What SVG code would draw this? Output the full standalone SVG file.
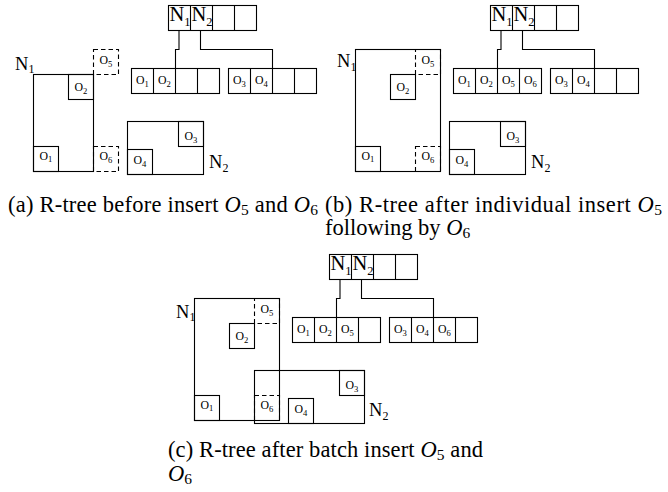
<svg xmlns="http://www.w3.org/2000/svg" width="668" height="492" viewBox="0 0 668 492" font-family="'Liberation Serif', 'Times New Roman', Times, serif">
  <style>
    .box{fill:none;stroke:#000;stroke-width:1.1}
    .dash{fill:none;stroke:#000;stroke-width:1.1;stroke-dasharray:4.5 3}
    .wire{fill:none;stroke:#000;stroke-width:1.1}
    text{font-family:'Liberation Serif','Times New Roman',Times,serif;fill:#000}
    .obj{font-size:11.8px;text-anchor:middle}
    .sub{font-size:8.6px}
    .nl{font-size:18.5px}
    .nsub{font-size:12px}
    .rn{font-size:20.5px}
    .rsub{font-size:12.5px}
    .cap{font-size:22.5px}
    .capsub{font-size:15.5px}
    .it{font-style:italic}
  </style>

  <!-- (a) R-tree before insert -->
  <g id="panel-a">
    <g id="a-root">
      <rect class="box" x="168.5" y="5.5" width="88" height="25"/>
      <path class="box" d="M190.5 5.5V30.5M212.5 5.5V30.5M234.5 5.5V30.5"/>
      <text class="rn" x="169.5" y="21">N<tspan class="rsub" dy="4.5">1</tspan></text>
      <text class="rn" x="191.5" y="21">N<tspan class="rsub" dy="4.5">2</tspan></text>
    </g>
    <g id="a-leaf1">
      <rect class="box" x="131.5" y="68.5" width="88" height="25"/>
      <path class="box" d="M153.5 68.5V93.5M175.5 68.5V93.5M197.5 68.5V93.5"/>
      <text class="obj" x="142.5" y="84">O<tspan class="sub" dy="2.5">1</tspan></text>
      <text class="obj" x="164.5" y="84">O<tspan class="sub" dy="2.5">2</tspan></text>
    </g>
    <g id="a-leaf2">
      <rect class="box" x="228.5" y="68.5" width="88" height="25"/>
      <path class="box" d="M250.5 68.5V93.5M272.5 68.5V93.5M294.5 68.5V93.5"/>
      <text class="obj" x="239.5" y="84">O<tspan class="sub" dy="2.5">3</tspan></text>
      <text class="obj" x="261.5" y="84">O<tspan class="sub" dy="2.5">4</tspan></text>
    </g>
    <g id="a-connectors">
      <path class="wire" d="M179 30.5V49.5H175.5V68.5"/>
      <path class="wire" d="M200.5 30.5V49.5H272.5V68.5"/>
    </g>
    <g id="a-N1">
      <rect class="box" x="33.5" y="74.5" width="60" height="97"/>
      <text class="nl" x="15" y="69.5">N<tspan class="nsub" dy="3.5">1</tspan></text>
    </g>
    <g id="a-N2">
      <rect class="box" x="127.5" y="121.5" width="76" height="53"/>
      <text class="nl" x="209" y="168">N<tspan class="nsub" dy="3.5">2</tspan></text>
    </g>
    <g id="a-O1"><rect class="box" x="33.5" y="146.5" width="25" height="25"/><text class="obj" x="46" y="159.5">O<tspan class="sub" dy="2.5">1</tspan></text></g>
    <g id="a-O2"><rect class="box" x="68.5" y="74.5" width="25" height="25"/><text class="obj" x="81" y="91">O<tspan class="sub" dy="2.5">2</tspan></text></g>
    <g id="a-O3"><rect class="box" x="178.5" y="121.5" width="25" height="25"/><text class="obj" x="191" y="140">O<tspan class="sub" dy="2.5">3</tspan></text></g>
    <g id="a-O4"><rect class="box" x="127.5" y="149.5" width="25" height="25"/><text class="obj" x="140" y="164">O<tspan class="sub" dy="2.5">4</tspan></text></g>
    <g id="a-O5"><rect class="dash" x="93.5" y="49.5" width="25" height="25"/><text class="obj" x="106" y="64">O<tspan class="sub" dy="2.5">5</tspan></text></g>
    <g id="a-O6"><rect class="dash" x="93.5" y="146.5" width="25" height="25"/><text class="obj" x="106" y="160">O<tspan class="sub" dy="2.5">6</tspan></text></g>
  </g>

  <!-- (b) R-tree after inserting O5 then O6 one at a time -->
  <g id="panel-b" transform="translate(322,0)">
    <g id="b-root">
      <rect class="box" x="168.5" y="5.5" width="88" height="25"/>
      <path class="box" d="M190.5 5.5V30.5M212.5 5.5V30.5M234.5 5.5V30.5"/>
      <text class="rn" x="169.5" y="21">N<tspan class="rsub" dy="4.5">1</tspan></text>
      <text class="rn" x="191.5" y="21">N<tspan class="rsub" dy="4.5">2</tspan></text>
    </g>
    <g id="b-leaf1">
      <rect class="box" x="131.5" y="68.5" width="88" height="25"/>
      <path class="box" d="M153.5 68.5V93.5M175.5 68.5V93.5M197.5 68.5V93.5"/>
      <text class="obj" x="142.5" y="84">O<tspan class="sub" dy="2.5">1</tspan></text>
      <text class="obj" x="164.5" y="84">O<tspan class="sub" dy="2.5">2</tspan></text>
      <text class="obj" x="186.5" y="84">O<tspan class="sub" dy="2.5">5</tspan></text>
      <text class="obj" x="208.5" y="84">O<tspan class="sub" dy="2.5">6</tspan></text>
    </g>
    <g id="b-leaf2">
      <rect class="box" x="228.5" y="68.5" width="88" height="25"/>
      <path class="box" d="M250.5 68.5V93.5M272.5 68.5V93.5M294.5 68.5V93.5"/>
      <text class="obj" x="239.5" y="84">O<tspan class="sub" dy="2.5">3</tspan></text>
      <text class="obj" x="261.5" y="84">O<tspan class="sub" dy="2.5">4</tspan></text>
    </g>
    <g id="b-connectors">
      <path class="wire" d="M179 30.5V49.5H175.5V68.5"/>
      <path class="wire" d="M200.5 30.5V49.5H272.5V68.5"/>
    </g>
    <g id="b-N1">
      <rect class="box" x="33.5" y="49.5" width="85" height="122"/>
      <text class="nl" x="15" y="67">N<tspan class="nsub" dy="3.5">1</tspan></text>
    </g>
    <g id="b-N2">
      <rect class="box" x="127.5" y="121.5" width="76" height="53"/>
      <text class="nl" x="209" y="168">N<tspan class="nsub" dy="3.5">2</tspan></text>
    </g>
    <g id="b-O1"><rect class="box" x="33.5" y="146.5" width="25" height="25"/><text class="obj" x="46" y="159.5">O<tspan class="sub" dy="2.5">1</tspan></text></g>
    <g id="b-O2"><rect class="box" x="68.5" y="74.5" width="25" height="25"/><text class="obj" x="81" y="91">O<tspan class="sub" dy="2.5">2</tspan></text></g>
    <g id="b-O3"><rect class="box" x="178.5" y="121.5" width="25" height="25"/><text class="obj" x="191" y="140">O<tspan class="sub" dy="2.5">3</tspan></text></g>
    <g id="b-O4"><rect class="box" x="127.5" y="149.5" width="25" height="25"/><text class="obj" x="140" y="164">O<tspan class="sub" dy="2.5">4</tspan></text></g>
    <g id="b-O5"><rect class="dash" x="93.5" y="49.5" width="25" height="25"/><text class="obj" x="106" y="64">O<tspan class="sub" dy="2.5">5</tspan></text></g>
    <g id="b-O6"><rect class="dash" x="93.5" y="146.5" width="25" height="25"/><text class="obj" x="106" y="160">O<tspan class="sub" dy="2.5">6</tspan></text></g>
  </g>

  <!-- (c) R-tree after batch insert -->
  <g id="panel-c" transform="translate(161,249)">
    <g id="c-root">
      <rect class="box" x="168.5" y="5.5" width="88" height="25"/>
      <path class="box" d="M190.5 5.5V30.5M212.5 5.5V30.5M234.5 5.5V30.5"/>
      <text class="rn" x="169.5" y="21">N<tspan class="rsub" dy="4.5">1</tspan></text>
      <text class="rn" x="191.5" y="21">N<tspan class="rsub" dy="4.5">2</tspan></text>
    </g>
    <g id="c-leaf1">
      <rect class="box" x="131.5" y="68.5" width="88" height="25"/>
      <path class="box" d="M153.5 68.5V93.5M175.5 68.5V93.5M197.5 68.5V93.5"/>
      <text class="obj" x="142.5" y="84">O<tspan class="sub" dy="2.5">1</tspan></text>
      <text class="obj" x="164.5" y="84">O<tspan class="sub" dy="2.5">2</tspan></text>
      <text class="obj" x="186.5" y="84">O<tspan class="sub" dy="2.5">5</tspan></text>
    </g>
    <g id="c-leaf2">
      <rect class="box" x="228.5" y="68.5" width="88" height="25"/>
      <path class="box" d="M250.5 68.5V93.5M272.5 68.5V93.5M294.5 68.5V93.5"/>
      <text class="obj" x="239.5" y="84">O<tspan class="sub" dy="2.5">3</tspan></text>
      <text class="obj" x="261.5" y="84">O<tspan class="sub" dy="2.5">4</tspan></text>
      <text class="obj" x="283.5" y="84">O<tspan class="sub" dy="2.5">6</tspan></text>
    </g>
    <g id="c-connectors">
      <path class="wire" d="M179 30.5V49.5H175.5V68.5"/>
      <path class="wire" d="M200.5 30.5V49.5H272.5V68.5"/>
    </g>
    <g id="c-N1">
      <rect class="box" x="33.5" y="49.5" width="85" height="122"/>
      <text class="nl" x="15" y="68.5">N<tspan class="nsub" dy="3.5">1</tspan></text>
    </g>
    <g id="c-N2">
      <rect class="box" x="93.5" y="121.5" width="110" height="53"/>
      <text class="nl" x="208" y="167">N<tspan class="nsub" dy="3.5">2</tspan></text>
    </g>
    <g id="c-O1"><rect class="box" x="33.5" y="146.5" width="25" height="25"/><text class="obj" x="46" y="159.5">O<tspan class="sub" dy="2.5">1</tspan></text></g>
    <g id="c-O2"><rect class="box" x="68.5" y="74.5" width="25" height="25"/><text class="obj" x="81" y="91">O<tspan class="sub" dy="2.5">2</tspan></text></g>
    <g id="c-O3"><rect class="box" x="178.5" y="121.5" width="25" height="25"/><text class="obj" x="191" y="140">O<tspan class="sub" dy="2.5">3</tspan></text></g>
    <g id="c-O4"><rect class="box" x="127.5" y="149.5" width="25" height="25"/><text class="obj" x="140" y="164">O<tspan class="sub" dy="2.5">4</tspan></text></g>
    <g id="c-O5"><rect class="dash" x="93.5" y="49.5" width="25" height="25"/><text class="obj" x="106" y="64">O<tspan class="sub" dy="2.5">5</tspan></text></g>
    <g id="c-O6"><rect class="dash" x="93.5" y="146.5" width="25" height="25"/><text class="obj" x="106" y="160">O<tspan class="sub" dy="2.5">6</tspan></text></g>
  </g>

  <!-- captions -->
  <g id="captions">
    <text class="cap" x="8" y="212" textLength="310" lengthAdjust="spacing">(a) R-tree before insert <tspan class="it">O</tspan><tspan class="capsub" dy="3">5</tspan><tspan dy="-3"> and </tspan><tspan class="it">O</tspan><tspan class="capsub" dy="3">6</tspan></text>
    <text class="cap" x="325" y="212" textLength="337" lengthAdjust="spacing">(b) R-tree after individual insert <tspan class="it">O</tspan><tspan class="capsub" dy="3">5</tspan></text>
    <text class="cap" x="325" y="235">following by <tspan class="it">O</tspan><tspan class="capsub" dy="3">6</tspan></text>
    <text class="cap" x="168" y="457" textLength="315" lengthAdjust="spacing">(c) R-tree after batch insert <tspan class="it">O</tspan><tspan class="capsub" dy="3">5</tspan><tspan dy="-3"> and</tspan></text>
    <text class="cap" x="168" y="481"><tspan class="it">O</tspan><tspan class="capsub" dy="3">6</tspan></text>
  </g>
</svg>
